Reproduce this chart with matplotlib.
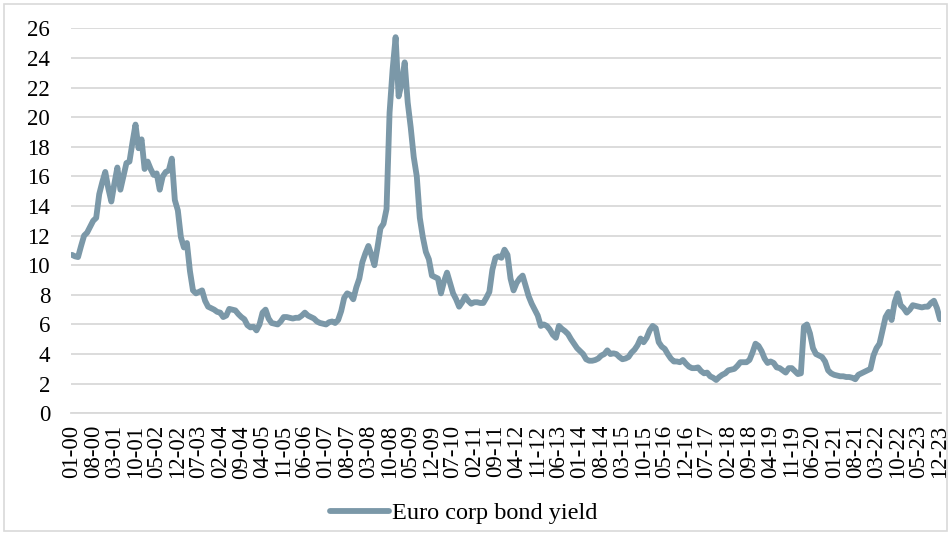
import matplotlib
matplotlib.use("Agg")
import matplotlib.pyplot as plt
from matplotlib.patches import Rectangle
import numpy as np

plt.rcParams['font.family'] = ['Liberation Serif', 'DejaVu Serif']

series_name = "Euro corp bond yield"
start_year = 2000
start_month = 1

# monthly values, Jan-2000 .. Dec-2023 (one row per year)
y2000 = [10.7, 10.6, 10.55, 11.3, 12.0, 12.2, 12.6, 13.0, 13.2, 14.8, 15.6, 16.3]
y2001 = [15.2, 14.3, 15.5, 16.6, 15.1, 16.0, 16.9, 17.0, 18.3, 19.5, 17.9, 18.5]
y2002 = [16.5, 17.0, 16.5, 16.1, 16.2, 15.1, 16.0, 16.3, 16.4, 17.2, 14.4, 13.7]
y2003 = [11.9, 11.2, 11.5, 9.6, 8.3, 8.1, 8.2, 8.3, 7.6, 7.2, 7.1, 7.0]
y2004 = [6.85, 6.8, 6.5, 6.6, 7.05, 7.0, 6.95, 6.7, 6.5, 6.35, 5.95, 5.8]
y2005 = [5.85, 5.6, 6.0, 6.8, 7.0, 6.4, 6.1, 6.05, 6.0, 6.2, 6.5, 6.5]
y2006 = [6.45, 6.4, 6.45, 6.45, 6.6, 6.8, 6.6, 6.5, 6.4, 6.2, 6.1, 6.05]
y2007 = [6.0, 6.15, 6.2, 6.1, 6.3, 6.9, 7.8, 8.1, 8.0, 7.7, 8.5, 9.1]
y2008 = [10.2, 10.8, 11.3, 10.7, 10.0, 11.2, 12.5, 12.8, 13.8, 20.3, 23.2, 25.4]
y2009 = [21.4, 22.3, 23.7, 21.0, 19.3, 17.3, 16.0, 13.2, 11.9, 10.9, 10.4, 9.3]
y2010 = [9.2, 9.1, 8.1, 8.9, 9.5, 8.8, 8.1, 7.7, 7.2, 7.5, 7.9, 7.6]
y2011 = [7.4, 7.5, 7.5, 7.45, 7.45, 7.8, 8.2, 9.7, 10.5, 10.6, 10.5, 11.05]
y2012 = [10.7, 9.1, 8.3, 8.8, 9.1, 9.3, 8.6, 7.9, 7.4, 7.0, 6.6, 5.9]
y2013 = [6.0, 5.9, 5.65, 5.3, 5.1, 5.9, 5.7, 5.55, 5.35, 5.0, 4.7, 4.4]
y2014 = [4.2, 4.0, 3.65, 3.55, 3.55, 3.6, 3.7, 3.9, 4.0, 4.25, 4.0, 4.05]
y2015 = [4.0, 3.8, 3.65, 3.7, 3.8, 4.1, 4.3, 4.6, 5.05, 4.8, 5.1, 5.6]
y2016 = [5.9, 5.75, 4.8, 4.5, 4.35, 4.0, 3.7, 3.5, 3.5, 3.45, 3.6, 3.35]
y2017 = [3.15, 3.05, 3.05, 3.1, 2.85, 2.7, 2.75, 2.5, 2.4, 2.25, 2.45, 2.6]
y2018 = [2.7, 2.9, 2.95, 3.0, 3.2, 3.45, 3.45, 3.45, 3.6, 4.1, 4.7, 4.55]
y2019 = [4.2, 3.7, 3.4, 3.5, 3.4, 3.1, 3.05, 2.9, 2.75, 3.05, 3.05, 2.85]
y2020 = [2.65, 2.7, 5.85, 6.0, 5.4, 4.4, 4.0, 3.9, 3.8, 3.5, 2.9, 2.7]
y2021 = [2.6, 2.55, 2.5, 2.5, 2.45, 2.45, 2.4, 2.3, 2.6, 2.7, 2.8, 2.9]
y2022 = [3.0, 3.9, 4.4, 4.7, 5.6, 6.5, 6.85, 6.3, 7.5, 8.1, 7.3, 7.1]
y2023 = [6.8, 7.0, 7.3, 7.25, 7.2, 7.15, 7.2, 7.2, 7.45, 7.6, 7.1, 6.35]

values = (y2000 + y2001 + y2002 + y2003 + y2004 + y2005 + y2006 + y2007 +
          y2008 + y2009 + y2010 + y2011 + y2012 + y2013 + y2014 + y2015 +
          y2016 + y2017 + y2018 + y2019 + y2020 + y2021 + y2022 + y2023)

n = len(values)
labels = []
for i in range(n):
    m = (start_month - 1 + i) % 12 + 1
    yy = (start_year + (start_month - 1 + i) // 12) % 100
    labels.append(f"{m:02d}-{yy:02d}")
label_step = 7
yticks = list(range(0, 27, 2))

W, H = 951, 533
fig = plt.figure(figsize=(W / 100, H / 100), dpi=100)
fig.patches.append(Rectangle((4 / W, 2 / H), 943 / W, 527 / H, transform=fig.transFigure,
                             fill=False, edgecolor='#d9d9d9', linewidth=1.2))

ax = fig.add_axes([71 / W, 1 - 413.3 / H, 870 / W, (413.3 - 28.3) / H])
x = np.arange(n)
line, = ax.plot(x, values, color='#7b98a8', linewidth=4.2, solid_joinstyle='round',
                solid_capstyle='round', label=series_name, zorder=3)

ax.set_ylim(0, 26)
ax.set_xlim(-0.33, n - 1 + 0.33)
ax.set_yticks(yticks)
ax.set_yticklabels([str(t) for t in yticks], fontsize=16.5)
ax.yaxis.grid(True, color='#d9d9d9', linewidth=1.3)
ax.set_axisbelow(True)
tick_pos = list(range(0, n, label_step))
ax.set_xticks(tick_pos)
ax.set_xticklabels([labels[i] for i in tick_pos], rotation=90, fontsize=16.5)
ax.tick_params(axis='both', length=0)
ax.tick_params(axis='y', pad=15)
ax.tick_params(axis='x', pad=8.5)
for s in ['top', 'right', 'left']:
    ax.spines[s].set_visible(False)
ax.spines['bottom'].set_color('#d9d9d9')
ax.spines['bottom'].set_linewidth(1.3)

fig.legend(handles=[line], loc='center', bbox_to_anchor=(464 / W, 1 - 513 / H),
           frameon=False, fontsize=17.5, handlelength=2.4, handletextpad=0.15)

fig.savefig('out.png', dpi=100)
